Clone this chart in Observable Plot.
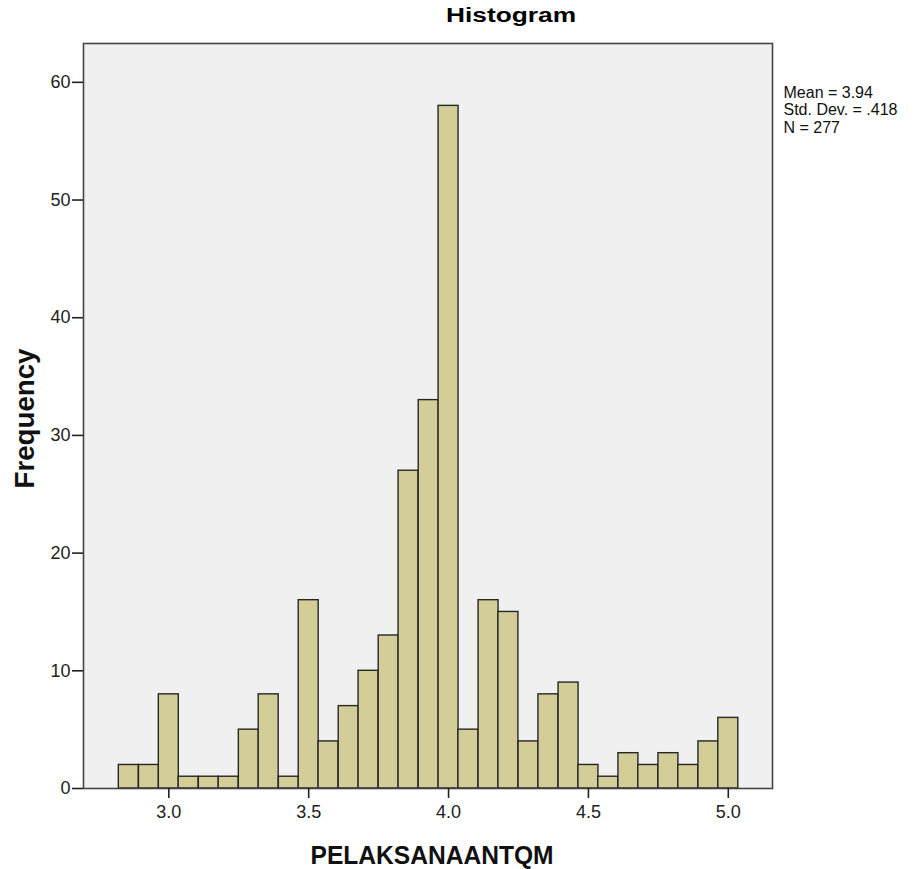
<!DOCTYPE html>
<html><head><meta charset="utf-8">
<script src="https://cdn.jsdelivr.net/npm/d3@7"></script>
<script src="https://cdn.jsdelivr.net/npm/@observablehq/plot@0.6"></script>
<style>html,body{margin:0;padding:0;background:#fff}#chart svg{display:block}</style>
</head><body><div id="chart"></div>
<script>
const binCenters = [2.857,2.929,3.000,3.071,3.143,3.214,3.286,3.357,3.429,3.500,3.571,3.643,3.714,3.786,3.857,3.929,4.000,4.071,4.143,4.214,4.286,4.357,4.429,4.500,4.571,4.643,4.714,4.786,4.857,4.929,5.000];
const frequencies = [2,2,8,1,1,1,5,8,1,16,4,7,10,13,27,33,58,5,16,15,4,8,9,2,1,3,2,3,2,4,6];
const binWidth = 1/14;
const xTicks = [3.0,3.5,4.0,4.5,5.0];
const yTicks = [0,10,20,30,40,50,60];
const statsLines = ["Mean = 3.94","Std. Dev. = .418","N = 277"];
const titleText = "Histogram";
const xLabel = "PELAKSANAANTQM";
const yLabel = "Frequency";

const bins = binCenters.map((c, i) => ({x1: c - binWidth/2, x2: c + binWidth/2, count: frequencies[i]}));

const chart = Plot.plot({
  width: 918,
  height: 869,
  marginLeft: 83,
  marginRight: 146,
  marginTop: 43,
  marginBottom: 81,
  style: {fontFamily: "'Liberation Sans', Arial, sans-serif", background: "#fff"},
  x: {domain: [2.695, 5.158]},
  y: {domain: [0, 63.3]},
  marks: [
    Plot.frame({fill: "#f0f0f0", stroke: null}),
    Plot.rectY(bins, {x1: "x1", x2: "x2", y: "count", fill: "#d3ce97", stroke: "#262626", strokeWidth: 1.4}),
    Plot.frame({stroke: "#444", strokeWidth: 1.6}),
    Plot.axisY(yTicks, {tickSize: 11, tickPadding: 2, fontSize: 18, color: "#222", strokeWidth: 1.6, label: null, tickFormat: d => String(d)}),
    Plot.axisX(xTicks, {tickSize: 10, tickPadding: 7, fontSize: 18, color: "#222", strokeWidth: 1.6, label: null, tickFormat: d => d.toFixed(1)}),
    Plot.text([titleText], {frameAnchor: "top", textAnchor: "middle", lineAnchor: "bottom", dx: 83, dy: -21.5, fontSize: 20, fontWeight: "bold", fill: "#000"}),
    Plot.text([xLabel], {frameAnchor: "bottom", textAnchor: "middle", lineAnchor: "bottom", dx: 4, dy: 75, fontSize: 26, fontWeight: "bold", fill: "#111"}),
    Plot.text([yLabel], {frameAnchor: "left", textAnchor: "middle", lineAnchor: "bottom", rotate: -90, dx: -50, dy: 2.5, fontSize: 27, fontWeight: "bold", fill: "#111"}),
    Plot.text([statsLines.join("\n")], {frameAnchor: "top-right", textAnchor: "start", lineAnchor: "top", lineHeight: 1.1, dx: 11, dy: 41.6, fontSize: 16, fill: "#111"})
  ]
});

d3.select(chart).selectAll("text").filter(function() { return this.textContent === titleText; })
  .attr("textLength", 130).attr("lengthAdjust", "spacingAndGlyphs");
d3.select(chart).selectAll("text").filter(function() { return this.textContent === xLabel; })
  .attr("textLength", 243).attr("lengthAdjust", "spacingAndGlyphs");
d3.select(chart).selectAll("text").filter(function() { return this.textContent === yLabel; })
  .attr("textLength", 140).attr("lengthAdjust", "spacingAndGlyphs");

document.getElementById("chart").appendChild(chart);
</script>
</body></html>
